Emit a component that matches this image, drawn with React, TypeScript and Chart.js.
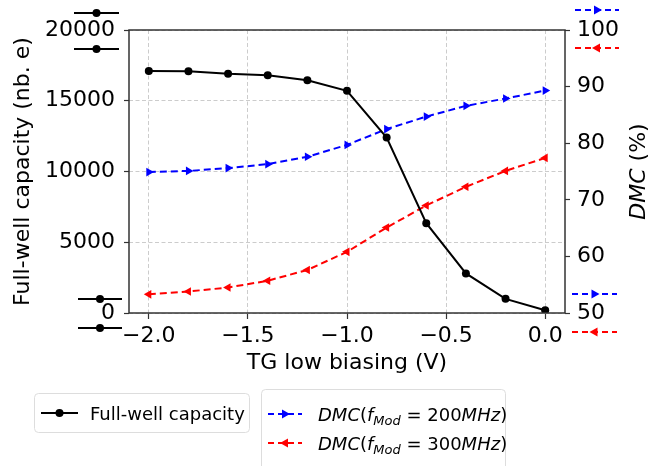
import React, { useEffect, useRef } from "react";
import { Chart, registerables } from "chart.js";

Chart.register(...registerables);

// ---- data ----
const biasV = [-2.0, -1.8, -1.6, -1.4, -1.2, -1.0, -0.8, -0.6, -0.4, -0.2, 0.0];
const fullWell = [17100, 17080, 16900, 16800, 16450, 15700, 12400, 6350, 2800, 1000, 200];
const dmc200 = [74.9, 75.1, 75.6, 76.3, 77.6, 79.7, 82.5, 84.7, 86.6, 87.9, 89.3];
const dmc300 = [53.3, 53.8, 54.5, 55.7, 57.6, 60.8, 65.1, 69.0, 72.3, 75.1, 77.4];
const xTicks = [-2.0, -1.5, -1.0, -0.5, 0.0];
const leftTicks = [0, 5000, 10000, 15000, 20000];
const rightTicks = [50, 60, 70, 80, 90, 100];

const FONT = "'DejaVu Sans', sans-serif";
const BLUE = "#0000ff";
const RED = "#ff0000";

const fmtMinus = (s: string) => s.replace("-", "\u2212");

type Seg = { t: string; it?: boolean; sub?: boolean };

function drawMath(ctx: CanvasRenderingContext2D, segs: Seg[], x: number, y: number, size: number) {
  let cx = x;
  for (const s of segs) {
    const sz = s.sub ? Math.round(size * 0.7) : size;
    ctx.font = `${s.it ? "italic " : ""}${sz}px ${FONT}`;
    ctx.textBaseline = "alphabetic";
    ctx.textAlign = "left";
    ctx.fillText(s.t, cx, y + (s.sub ? size * 0.22 : 0));
    cx += ctx.measureText(s.t).width;
  }
  return cx - x;
}

function measureMath(ctx: CanvasRenderingContext2D, segs: Seg[], size: number) {
  let w = 0;
  for (const s of segs) {
    const sz = s.sub ? Math.round(size * 0.7) : size;
    ctx.font = `${s.it ? "italic " : ""}${sz}px ${FONT}`;
    w += ctx.measureText(s.t).width;
  }
  return w;
}

function marker(ctx: CanvasRenderingContext2D, kind: string, x: number, y: number, r: number, color: string) {
  ctx.save();
  ctx.fillStyle = color;
  ctx.setLineDash([]);
  ctx.beginPath();
  if (kind === "circle") {
    ctx.arc(x, y, r, 0, Math.PI * 2);
  } else if (kind === "right") {
    ctx.moveTo(x + r, y);
    ctx.lineTo(x - r * 0.6, y - r * 0.9);
    ctx.lineTo(x - r * 0.6, y + r * 0.9);
  } else {
    ctx.moveTo(x - r, y);
    ctx.lineTo(x + r * 0.6, y - r * 0.9);
    ctx.lineTo(x + r * 0.6, y + r * 0.9);
  }
  ctx.closePath();
  ctx.fill();
  ctx.restore();
}

function handle(ctx: CanvasRenderingContext2D, x1: number, x2: number, y: number, color: string, dashed: boolean, kind: string) {
  ctx.save();
  ctx.strokeStyle = color;
  ctx.lineWidth = 2;
  ctx.setLineDash(dashed ? [6, 4] : []);
  ctx.beginPath();
  ctx.moveTo(x1, y);
  ctx.lineTo(x2, y);
  ctx.stroke();
  ctx.restore();
  marker(ctx, kind, (x1 + x2) / 2, y, kind === "circle" ? 4 : 5, color);
}

function roundRect(ctx: CanvasRenderingContext2D, x: number, y: number, w: number, h: number, r: number) {
  ctx.beginPath();
  ctx.moveTo(x + r, y);
  ctx.lineTo(x + w - r, y);
  ctx.quadraticCurveTo(x + w, y, x + w, y + r);
  ctx.lineTo(x + w, y + h - r);
  ctx.quadraticCurveTo(x + w, y + h, x + w - r, y + h);
  ctx.lineTo(x + r, y + h);
  ctx.quadraticCurveTo(x, y + h, x, y + h - r);
  ctx.lineTo(x, y + r);
  ctx.quadraticCurveTo(x, y, x + r, y);
  ctx.closePath();
}

const seg200: Seg[] = [
  { t: "DMC", it: true },
  { t: "(" },
  { t: "f", it: true },
  { t: "Mod", it: true, sub: true },
  { t: " = 200" },
  { t: "MHz", it: true },
  { t: ")" },
];
const seg300: Seg[] = [
  { t: "DMC", it: true },
  { t: "(" },
  { t: "f", it: true },
  { t: "Mod", it: true, sub: true },
  { t: " = 300" },
  { t: "MHz", it: true },
  { t: ")" },
];

const decorPlugin = {
  id: "decor",
  afterDraw(chart: any) {
    const ctx: CanvasRenderingContext2D = chart.ctx;
    const { left, right, top, bottom } = chart.chartArea;
    const y = chart.scales.y;
    const yTop = y.getPixelForValue(20000);
    const yBot = y.getPixelForValue(0);

    // frame
    ctx.save();
    ctx.setLineDash([]);
    ctx.strokeStyle = "#333333";
    ctx.lineWidth = 1.5;
    ctx.strokeRect(left, top, right - left, bottom - top);
    ctx.restore();

    // stray handles near axis ends
    handle(ctx, left - 55, left - 10, yTop - 17, "#000", false, "circle");
    handle(ctx, left - 55, left - 10, yTop + 19, "#000", false, "circle");
    handle(ctx, left - 51, left - 7, yBot - 14, "#000", false, "circle");
    handle(ctx, left - 51, left - 7, yBot + 15, "#000", false, "circle");
    handle(ctx, right + 10, right + 54, yTop - 20, BLUE, true, "right");
    handle(ctx, right + 10, right + 54, yTop + 18, RED, true, "left");
    handle(ctx, right + 7, right + 52, yBot - 19, BLUE, true, "right");
    handle(ctx, right + 7, right + 52, yBot + 19, RED, true, "left");

    // right axis title
    ctx.save();
    ctx.fillStyle = "#000";
    const titleSegs: Seg[] = [{ t: "DMC", it: true }, { t: " (%)" }];
    const tw = measureMath(ctx, titleSegs, 22);
    ctx.translate(637, (top + bottom) / 2);
    ctx.rotate(-Math.PI / 2);
    drawMath(ctx, titleSegs, -tw / 2, 8, 22);
    ctx.restore();

    // legends
    ctx.save();
    ctx.setLineDash([]);
    ctx.fillStyle = "rgba(255,255,255,0.8)";
    ctx.strokeStyle = "#dddddd";
    ctx.lineWidth = 1;
    roundRect(ctx, 34.5, 393.5, 215, 39, 4);
    ctx.fill();
    ctx.stroke();
    roundRect(ctx, 261.5, 389.5, 244, 90, 4);
    ctx.fill();
    ctx.stroke();
    ctx.restore();

    handle(ctx, 41, 78, 413, "#000", false, "circle");
    ctx.save();
    ctx.fillStyle = "#000";
    ctx.font = `18px ${FONT}`;
    ctx.textBaseline = "alphabetic";
    ctx.textAlign = "left";
    ctx.fillText("Full-well capacity", 90, 420);
    ctx.restore();

    handle(ctx, 268, 302, 414, BLUE, true, "right");
    handle(ctx, 268, 302, 443, RED, true, "left");
    ctx.save();
    ctx.fillStyle = "#000";
    drawMath(ctx, seg200, 318, 421, 18);
    drawMath(ctx, seg300, 318, 450, 18);
    ctx.restore();
  },
};

export default function App() {
  const ref = useRef<HTMLCanvasElement | null>(null);

  useEffect(() => {
    if (!ref.current) return;
    Chart.defaults.font.family = FONT;
    const gridDash = [4, 2.5];
    const chart = new Chart(ref.current, {
      type: "line",
      data: {
        datasets: [
          {
            label: "Full-well capacity",
            data: biasV.map((x, i) => ({ x, y: fullWell[i] })),
            borderColor: "#000000",
            backgroundColor: "#000000",
            borderWidth: 2,
            pointRadius: 4,
            pointBorderWidth: 0,
            pointBackgroundColor: "#000000",
            yAxisID: "y",
            tension: 0,
          },
          {
            label: "DMC(fMod = 200MHz)",
            data: biasV.map((x, i) => ({ x, y: dmc200[i] })),
            borderColor: BLUE,
            backgroundColor: BLUE,
            borderWidth: 2,
            borderDash: [7, 4],
            pointStyle: "triangle",
            rotation: 90,
            pointRadius: 5,
            pointBorderWidth: 0,
            pointBackgroundColor: BLUE,
            yAxisID: "y2",
            tension: 0,
          },
          {
            label: "DMC(fMod = 300MHz)",
            data: biasV.map((x, i) => ({ x, y: dmc300[i] })),
            borderColor: RED,
            backgroundColor: RED,
            borderWidth: 2,
            borderDash: [7, 4],
            pointStyle: "triangle",
            rotation: -90,
            pointRadius: 5,
            pointBorderWidth: 0,
            pointBackgroundColor: RED,
            yAxisID: "y2",
            tension: 0,
          },
        ],
      },
      options: {
        animation: false,
        responsive: false,
        devicePixelRatio: 1,
        layout: { padding: { top: 30, left: 0, right: 0, bottom: 0 } },
        plugins: { legend: { display: false }, tooltip: { enabled: false } },
        scales: {
          x: {
            type: "linear",
            position: "bottom",
            min: -2.1,
            max: 0.1,
            afterBuildTicks: (s: any) => {
              s.ticks = xTicks.map((v) => ({ value: v }));
            },
            afterFit: (s: any) => {
              s.height = 153;
            },
            ticks: {
              color: "#000",
              font: { size: 22 },
              padding: 4,
              maxRotation: 0,
              callback: (v: any) => fmtMinus(Number(v).toFixed(1)),
            },
            grid: {
              color: "#cccccc",
              lineWidth: 1,
              tickColor: "#333333",
              tickLength: 6,
              tickWidth: 1.2,
            },
            border: { display: false, dash: gridDash },
            title: {
              display: true,
              text: "TG low biasing (V)",
              color: "#000",
              font: { size: 22 },
              padding: { top: 0, bottom: 90 },
            },
          },
          y: {
            type: "linear",
            position: "left",
            min: 0,
            max: 20000,
            afterBuildTicks: (s: any) => {
              s.ticks = leftTicks.map((v) => ({ value: v }));
            },
            afterFit: (s: any) => {
              s.width = 129;
            },
            ticks: {
              color: "#000",
              font: { size: 22 },
              padding: 9,
              callback: (v: any) => String(v),
            },
            grid: {
              color: "#cccccc",
              lineWidth: 1,
              tickColor: "#333333",
              tickLength: 5,
              tickWidth: 1.2,
            },
            border: { display: false, dash: gridDash },
            title: {
              display: true,
              text: "Full-well capacity (nb. e)",
              color: "#000",
              font: { size: 22 },
              padding: { top: 10, bottom: 0 },
            },
          },
          y2: {
            type: "linear",
            position: "right",
            min: 50,
            max: 100,
            afterBuildTicks: (s: any) => {
              s.ticks = rightTicks.map((v) => ({ value: v }));
            },
            afterFit: (s: any) => {
              s.width = 93;
            },
            ticks: {
              color: "#000",
              font: { size: 22 },
              padding: 7,
              callback: (v: any) => String(v),
            },
            grid: {
              drawOnChartArea: false,
              tickColor: "#333333",
              tickLength: 5,
              tickWidth: 1.2,
            },
            border: { display: false },
          },
        },
      },
      plugins: [decorPlugin],
    } as any);
    return () => chart.destroy();
  }, []);

  return (
    <div style={{ position: "absolute", left: 0, top: 0, width: 658, height: 466, background: "#fff" }}>
      <canvas ref={ref} width={658} height={466} style={{ display: "block" }} />
    </div>
  );
}
